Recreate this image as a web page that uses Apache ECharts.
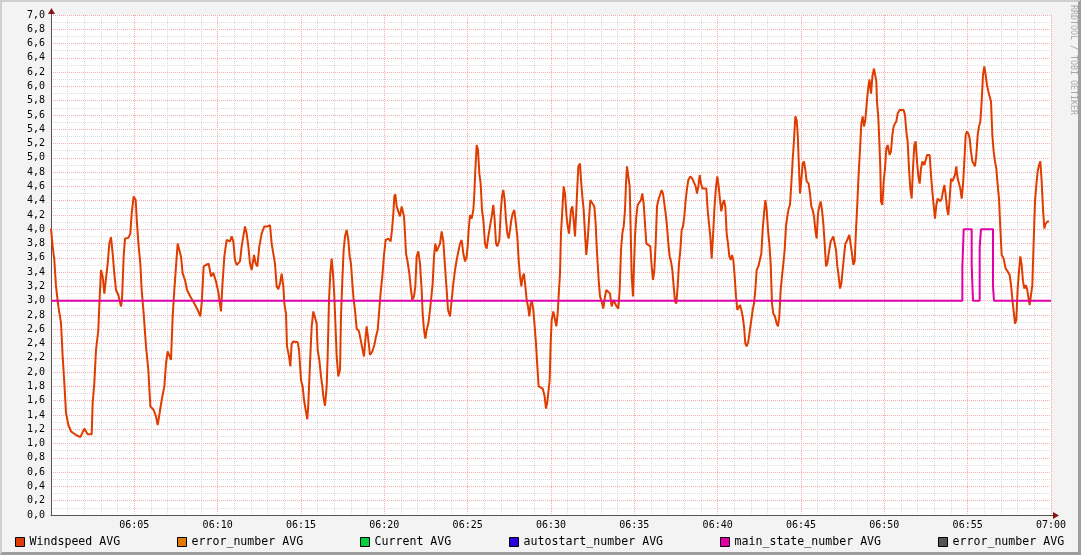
<!DOCTYPE html>
<html><head><meta charset="utf-8">
<script src="https://cdn.jsdelivr.net/npm/echarts@6/dist/echarts.min.js"></script>
<style>
html,body{margin:0;padding:0;background:#f3f3f3;}
#wrap{position:relative;width:1081px;height:555px;overflow:hidden;background:#f3f3f3;}
#chart{position:absolute;left:0;top:0;width:1081px;height:555px;}
#frame{position:absolute;left:0;top:0;width:1081px;height:555px;box-sizing:border-box;border-left:2px solid #cfcfcf;border-top:2px solid #cfcfcf;border-right:3px solid #9e9e9e;border-bottom:3px solid #9e9e9e;pointer-events:none;}
</style></head><body>
<div id="wrap"><div id="chart"></div><div id="frame"></div></div>
<script>
// minutes after 06:00
const windMin = [
0,0.10,0.20,0.30,0.44,0.60,0.70,0.80,0.90,1.04,
1.20,1.50,1.76,2.00,2.20,2.44,2.50,2.60,2.70,2.84,
2.90,3.00,3.10,3.20,3.30,3.40,3.50,3.60,3.70,3.80,
3.90,4.04,4.20,4.26,4.36,4.44,4.64,4.76,4.84,4.96,
5.08,5.16,5.26,5.36,5.44,5.56,5.70,5.84,5.96,6.16,
6.30,6.40,6.50,6.64,6.80,6.90,7.00,7.10,7.20,7.30,
7.40,7.50,7.60,7.70,7.80,7.90,8.04,8.16,8.36,8.60,
8.80,8.96,9.04,9.16,9.30,9.46,9.60,9.74,9.90,10.04,
10.20,10.28,10.40,10.54,10.74,10.84,10.94,11.04,11.14,11.34,
11.44,11.54,11.64,11.74,11.84,11.94,12.04,12.18,12.28,12.38,
12.50,12.64,12.80,13.00,13.14,13.24,13.34,13.44,13.54,13.64,
13.74,13.84,13.94,14.00,14.10,14.16,14.28,14.36,14.44,14.54,
14.80,14.88,15.00,15.10,15.18,15.28,15.38,15.44,15.54,15.64,
15.74,15.84,15.94,16.00,16.10,16.20,16.28,16.34,16.44,16.54,
16.60,16.68,16.76,16.84,16.92,17.00,17.08,17.14,17.24,17.34,
17.40,17.48,17.56,17.64,17.74,17.84,17.92,18.00,18.08,18.16,
18.24,18.34,18.48,18.60,18.70,18.78,18.88,18.94,19.04,19.14,
19.28,19.40,19.50,19.60,19.68,19.78,19.88,19.98,20.08,20.24,
20.38,20.46,20.54,20.60,20.66,20.74,20.84,20.94,21.04,21.10,
21.18,21.24,21.30,21.38,21.50,21.60,21.68,21.78,21.86,21.94,
22.04,22.14,22.24,22.30,22.38,22.46,22.54,22.64,22.74,22.84,
22.90,22.98,23.06,23.14,23.24,23.34,23.44,23.54,23.64,23.74,
23.82,23.94,24.04,24.14,24.24,24.34,24.44,24.54,24.64,24.74,
24.84,24.94,25.00,25.06,25.14,25.24,25.34,25.40,25.46,25.54,
25.62,25.70,25.78,25.86,25.94,26.04,26.14,26.24,26.34,26.44,
26.54,26.62,26.70,26.78,26.90,26.98,27.06,27.14,27.22,27.30,
27.38,27.46,27.54,27.62,27.70,27.80,27.90,27.98,28.06,28.14,
28.22,28.30,28.38,28.46,28.54,28.62,28.70,28.78,28.86,28.94,
29.02,29.10,29.18,29.26,29.38,29.50,29.62,29.70,29.78,29.92,
29.98,30.04,30.14,30.24,30.32,30.40,30.48,30.54,30.60,30.68,
30.76,30.84,30.92,31.00,31.08,31.14,31.20,31.28,31.36,31.44,
31.52,31.58,31.64,31.74,31.80,31.88,31.96,32.04,32.12,32.20,
32.28,32.36,32.48,32.60,32.68,32.74,32.80,32.86,32.94,33.04,
33.14,33.24,33.32,33.44,33.54,33.64,33.74,33.84,33.94,34.04,
34.12,34.20,34.28,34.36,34.44,34.50,34.56,34.64,34.72,34.78,
34.84,34.92,34.96,35.04,35.12,35.20,35.32,35.40,35.48,35.56,
35.64,35.72,35.84,35.96,36.04,36.12,36.20,36.28,36.36,36.44,
36.56,36.64,36.72,36.80,36.88,36.96,37.04,37.12,37.20,37.28,
37.36,37.44,37.52,37.60,37.68,37.76,37.84,37.92,38.00,38.08,
38.16,38.24,38.36,38.48,38.60,38.68,38.76,38.84,38.92,39.00,
39.08,39.20,39.32,39.40,39.48,39.56,39.64,39.72,39.80,39.90,
39.98,40.06,40.14,40.22,40.30,40.38,40.46,40.54,40.62,40.70,
40.78,40.86,40.94,41.02,41.10,41.18,41.26,41.34,41.42,41.50,
41.58,41.66,41.74,41.84,41.94,42.02,42.10,42.18,42.26,42.34,
42.44,42.54,42.62,42.70,42.78,42.86,42.94,43.02,43.10,43.18,
43.26,43.34,43.44,43.54,43.62,43.70,43.78,43.86,43.94,44.02,
44.10,44.18,44.26,44.34,44.42,44.50,44.58,44.66,44.74,44.80,
44.86,44.94,45.02,45.10,45.18,45.26,45.34,45.46,45.54,45.62,
45.70,45.78,45.86,45.94,46.02,46.10,46.18,46.26,46.34,46.42,
46.50,46.58,46.66,46.78,46.86,46.94,47.02,47.10,47.18,47.26,
47.34,47.42,47.50,47.58,47.66,47.74,47.82,47.90,47.98,48.06,
48.14,48.22,48.30,48.38,48.46,48.54,48.62,48.70,48.78,48.86,
48.94,49.02,49.11,49.20,49.29,49.38,49.44,49.52,49.56,49.64,
49.70,49.76,49.80,49.88,49.96,50.04,50.12,50.20,50.32,50.40,
50.48,50.56,50.64,50.72,50.80,50.92,51.04,51.16,51.24,51.32,
51.40,51.48,51.56,51.64,51.72,51.80,51.88,51.96,52.04,52.12,
52.20,52.28,52.40,52.48,52.56,52.64,52.72,52.80,52.88,52.96,
53.04,53.12,53.20,53.28,53.36,53.44,53.52,53.60,53.68,53.76,
53.84,53.92,54.00,54.08,54.16,54.24,54.32,54.40,54.48,54.56,
54.64,54.72,54.80,54.88,54.96,55.04,55.12,55.20,55.28,55.36,
55.44,55.52,55.60,55.68,55.76,55.84,55.92,56.00,56.08,56.16,
56.24,56.32,56.40,56.48,56.56,56.64,56.72,56.80,56.88,56.96,
57.04,57.16,57.28,57.40,57.52,57.60,57.68,57.76,57.84,57.92,
58.00,58.08,58.16,58.24,58.32,58.40,58.48,58.56,58.64,58.72,
58.80,58.88,58.96,59.04,59.12,59.20,59.28,59.36,59.44,59.52,
59.60,59.68,59.80,59.88
];
const windVal = [
4.01,3.76,3.57,3.20,2.92,2.69,2.22,1.85,1.43,1.26,
1.17,1.12,1.09,1.21,1.13,1.13,1.57,1.85,2.31,2.59,
2.94,3.43,3.34,3.10,3.08,3.52,3.80,3.89,3.66,3.38,
3.15,3.08,2.92,3.01,3.62,3.87,3.88,3.94,4.22,4.46,
4.41,4.08,3.76,3.52,3.15,2.82,2.36,2.03,1.52,1.47,
1.38,1.26,1.40,1.61,1.80,2.12,2.29,2.29,2.17,2.78,
3.15,3.48,3.80,3.80,3.62,3.38,3.29,3.15,3.06,2.96,
2.87,2.78,2.96,3.48,3.50,3.52,3.34,3.39,3.27,3.12,
2.85,3.20,3.62,3.85,3.83,3.90,3.83,3.57,3.50,3.55,
3.76,3.90,4.04,3.94,3.76,3.52,3.43,3.64,3.52,3.48,
3.76,3.94,4.04,4.04,4.06,3.80,3.66,3.52,3.20,3.16,
3.24,3.38,3.20,2.96,2.82,2.36,2.22,2.08,2.40,2.43,
2.42,2.31,1.89,1.80,1.61,1.47,1.34,1.56,2.12,2.64,
2.85,2.87,2.68,2.31,2.17,1.94,1.80,1.66,1.53,1.80,
2.22,3.01,3.38,3.59,3.38,3.06,2.59,2.22,1.94,2.03,
2.78,3.29,3.71,3.90,3.99,3.85,3.62,3.52,3.24,3.01,
2.87,2.61,2.57,2.57,2.31,2.22,2.50,2.64,2.45,2.24,
2.29,2.38,2.50,2.59,2.82,3.12,3.34,3.64,3.85,3.87,
3.83,3.99,4.22,4.46,4.49,4.32,4.25,4.18,4.32,4.34,
4.18,3.94,3.66,3.57,3.38,3.15,3.01,3.06,3.20,3.62,
3.69,3.52,3.15,2.82,2.59,2.47,2.59,2.68,2.87,3.10,
3.24,3.62,3.80,3.69,3.69,3.80,3.97,3.83,3.48,3.15,
2.87,2.78,3.01,3.24,3.43,3.57,3.59,3.80,3.85,3.66,
3.55,3.62,3.76,3.99,4.20,4.15,4.27,4.50,4.83,5.18,
5.11,4.78,4.64,4.27,4.13,3.80,3.73,3.90,3.90,4.18,
4.34,4.13,3.80,3.76,3.85,4.22,4.46,4.55,4.41,4.13,
3.94,3.87,3.99,4.13,4.22,4.27,4.25,3.90,3.57,3.34,
3.20,3.34,3.38,3.20,3.01,2.92,2.78,2.96,2.99,2.87,
2.64,2.40,2.08,1.80,1.80,1.77,1.66,1.49,1.58,1.89,
2.40,2.73,2.85,2.87,2.64,2.82,3.15,3.38,3.94,4.27,
4.60,4.50,4.22,4.04,3.94,3.92,4.27,4.32,4.13,3.90,
4.27,4.60,4.88,4.92,4.69,4.46,4.27,3.94,3.64,3.85,
4.13,4.41,4.41,4.32,4.08,3.76,3.52,3.29,3.06,2.99,
2.89,3.06,3.15,3.15,3.10,2.92,3.01,3.03,2.92,2.89,
3.15,3.71,3.94,4.04,4.27,4.64,4.88,4.90,4.60,3.99,
3.34,3.06,3.34,3.90,4.18,4.34,4.36,4.41,4.50,4.36,
4.08,3.80,3.78,3.76,3.48,3.29,3.43,3.80,4.32,4.41,
4.39,4.55,4.50,4.36,4.22,4.04,3.80,3.62,3.55,3.43,
3.20,2.99,2.96,3.20,3.52,3.71,3.99,4.04,4.18,4.41,
4.57,4.69,4.74,4.71,4.69,4.60,4.50,4.60,4.76,4.64,
4.57,4.55,4.57,4.27,4.08,3.90,3.59,3.90,4.27,4.60,
4.74,4.60,4.41,4.25,4.36,4.41,4.32,3.94,3.80,3.62,
3.57,3.64,3.57,3.34,3.06,2.87,2.87,2.94,2.87,2.78,
2.64,2.40,2.36,2.43,2.45,2.73,2.87,2.96,3.15,3.43,
3.48,3.48,3.66,3.99,4.22,4.41,4.27,3.99,3.80,3.52,
2.96,2.82,2.78,2.68,2.64,2.78,3.15,3.34,3.52,3.71,
4.04,4.18,4.29,4.34,4.64,4.97,5.25,5.58,5.53,5.34,
4.97,4.50,4.69,4.92,4.95,4.83,4.67,4.64,4.50,4.32,
4.27,4.18,3.99,3.87,4.22,4.32,4.39,4.27,4.08,3.80,
3.48,3.52,3.66,3.83,3.85,3.90,3.90,3.71,3.48,3.34,
3.17,3.24,3.43,3.62,3.80,3.83,3.85,3.92,3.90,3.66,
3.50,3.55,3.99,4.36,4.78,5.11,5.48,5.58,5.44,5.53,
5.76,5.95,6.10,5.90,6.15,6.25,6.23,6.07,5.79,5.55,
5.23,4.85,4.39,4.34,4.67,4.85,5.13,5.18,5.04,5.09,
5.32,5.44,5.48,5.51,5.62,5.67,5.69,5.67,5.60,5.37,
5.23,4.85,4.57,4.43,4.85,5.18,5.23,4.95,4.74,4.64,
4.85,4.95,4.90,4.88,5.04,5.06,5.04,4.76,4.53,4.34,
4.15,4.34,4.43,4.43,4.39,4.43,4.53,4.62,4.48,4.29,
4.20,4.43,4.71,4.67,4.67,4.76,4.88,4.71,4.69,4.57,
4.43,4.62,4.95,5.32,5.37,5.34,5.27,5.09,4.95,4.92,
4.88,5.04,5.32,5.44,5.51,5.79,6.16,6.28,6.16,6.02,
5.93,5.86,5.79,5.32,5.09,4.95,4.85,4.62,4.43,4.01,
3.64,3.59,3.45,3.41,3.36,3.22,3.03,2.85,2.68,2.73,
3.17,3.41,3.62,3.50,3.27,3.17,3.22,3.17,3.15,2.94,
2.94,3.22,3.83,4.39,4.62,4.81,4.90,4.95,4.67,4.29,
4.01,4.08,4.11,4.11
];
const stateMin = [0, 54.68, 54.76, 55.24, 55.32, 55.72, 55.80, 56.52, 56.58, 60];
const stateVal = [3, 3.45, 4, 3.5, 3, 3.75, 4, 3.2, 3, 3];

const seriesNames = ['Windspeed AVG','error_number AVG','Current AVG','autostart_number AVG','main_state_number AVG','error_number AVG '];
const seriesColors = ['#e03c00','#e07800','#00d040','#2a00e0','#e000a8','#555555'];
const legendLeft = [15,177,360,509,720,938];

const windData = windMin.map((t,i)=>[t, windVal[i]]);
const stateData = stateMin.map((t,i)=>[t, stateVal[i]]);

const chart = echarts.init(document.getElementById('chart'), null, {renderer:'canvas'});
const mono = 'DejaVu Sans Mono';

function fmtTime(v){
  const h = 6 + Math.floor(v/60);
  const m = Math.round(v % 60);
  return String(h).padStart(2,'0') + ':' + String(m).padStart(2,'0');
}

const seriesList = seriesNames.map((name,i)=>{
  const s = {name:name, type:'line', color:seriesColors[i], showSymbol:false, symbol:'none',
    lineStyle:{width:2, color:seriesColors[i]}, itemStyle:{color:seriesColors[i]}, data:[], animation:false};
  if(i===0){ s.data = windData; }
  if(i===4){ s.data = stateData; s.step = 'end'; }
  return s;
});

const legends = seriesNames.map((name,i)=>({
  show:true, selectedMode:false, left:legendLeft[i], top:536, padding:0,
  itemWidth:9, itemHeight:9, icon:'rect',
  itemStyle:{borderColor:'#000', borderWidth:1},
  textStyle:{fontFamily:mono, fontSize:11.6, color:'#000'},
  data:[{name:name, icon:'rect'}]
}));

chart.setOption({
  animation:false,
  backgroundColor:'transparent',
  grid:{left:51, top:15, right:30, bottom:40, show:true, backgroundColor:'#ffffff', borderWidth:0},
  legend: legends,
  xAxis:{
    type:'value', min:0, max:60, interval:5,
    axisLine:{show:true, lineStyle:{color:'#555555', width:1}},
    axisTick:{show:false},
    minorTick:{show:false, splitNumber:5},
    axisLabel:{show:true, showMinLabel:false, showMaxLabel:true, margin:5, fontFamily:mono, fontSize:10, color:'#000', formatter:fmtTime},
    splitLine:{show:true, lineStyle:{color:'#f4acac', width:1, type:[1,1]}},
    minorSplitLine:{show:true, lineStyle:{color:'#dcdcdc', width:1, type:[1,1]}}
  },
  yAxis:{
    type:'value', min:0, max:7, interval:0.2,
    axisLine:{show:true, lineStyle:{color:'#555555', width:1}},
    axisTick:{show:false},
    minorTick:{show:false, splitNumber:2},
    axisLabel:{show:true, margin:6, fontFamily:mono, fontSize:10, color:'#000', formatter:v=>v.toFixed(1).replace('.',',')},
    splitLine:{show:true, lineStyle:{color:'#f4acac', width:1, type:[1,1]}},
    minorSplitLine:{show:true, lineStyle:{color:'#dcdcdc', width:1, type:[1,1]}}
  },
  series: seriesList,
  graphic:[
    {type:'line', shape:{x1:51.5, y1:9, x2:51.5, y2:15}, style:{stroke:'#555555', lineWidth:1}, z:100},
    {type:'polygon', shape:{points:[[48,14],[55,14],[51.5,8]]}, style:{fill:'#8b1515'}, z:101},
    {type:'line', shape:{x1:1051, y1:515.5, x2:1056, y2:515.5}, style:{stroke:'#555555', lineWidth:1}, z:100},
    {type:'polygon', shape:{points:[[1053,512],[1053,519],[1059,515.5]]}, style:{fill:'#8b1515'}, z:101},
    {type:'text', x:1077, y:5, rotation:-Math.PI/2, style:{text:'RRDTOOL / TOBI OETIKER', fill:'#a9a9a9', font:'8.3px "DejaVu Sans Mono"', textAlign:'left', textVerticalAlign:'top'}, z:100}
  ]
});
</script>
</body></html>
